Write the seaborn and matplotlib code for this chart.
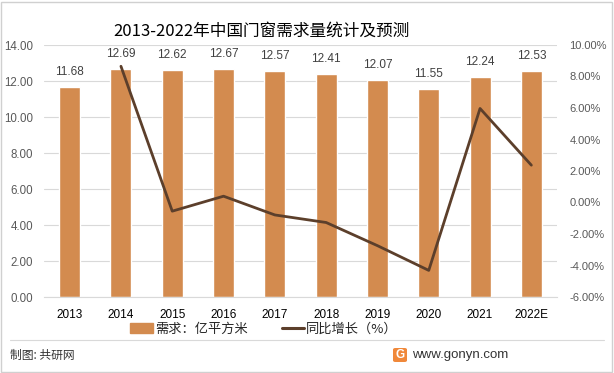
import matplotlib
matplotlib.use("Agg")
import matplotlib.pyplot as plt
import seaborn as sns
import pandas as pd
from matplotlib.patches import Rectangle, FancyBboxPatch
from matplotlib.lines import Line2D

years = ["2013", "2014", "2015", "2016", "2017", "2018", "2019", "2020", "2021", "2022E"]
demand = [11.68, 12.69, 12.62, 12.67, 12.57, 12.41, 12.07, 11.55, 12.24, 12.53]
growth = [None, 8.65, -0.55, 0.40, -0.79, -1.27, -2.74, -4.31, 5.97, 2.37]
left_ticks = [0, 2, 4, 6, 8, 10, 12, 14]
right_ticks = [-6, -4, -2, 0, 2, 4, 6, 8, 10]

sns.set_theme(style="white")
FONT = ["Liberation Sans", "Noto Sans CJK SC", "DejaVu Sans"]
CJK = ["Noto Sans CJK SC", "DejaVu Sans"]
plt.rcParams["font.family"] = FONT

BAR = "#D38B4F"
LINE = "#5C3F2B"

df = pd.DataFrame({"year": years, "demand": demand, "growth": growth})

fig = plt.figure(figsize=(6.14, 3.73), dpi=100)
ax = fig.add_axes([44/614, 1-297/373, (557-44)/614, (297-45)/373])

sns.barplot(data=df, x="year", y="demand", color=BAR, width=0.41, ax=ax,
            saturation=1, zorder=2)
ax.set_ylim(0, 14)
ax.set_xlim(-0.5, len(years)-0.5)
ax.set_yticks(left_ticks)
ax.set_yticklabels([f"{v:.2f}" for v in left_ticks], color="#595959", fontsize=8.3)
ax.set_xlabel("")
ax.set_ylabel("")
ax.tick_params(axis="x", labelsize=8.5, colors="#000000", pad=9, length=0)
ax.tick_params(axis="y", length=0, pad=8)
ax.grid(axis="y", color="#D9D9D9", linewidth=0.8, zorder=0)
ax.set_axisbelow(True)
for s in ax.spines.values():
    s.set_visible(False)
ax.spines["bottom"].set_visible(True)
ax.spines["bottom"].set_color("#D9D9D9")
ax.spines["bottom"].set_linewidth(0.8)

for i, v in enumerate(demand):
    ax.text(i, v + 0.5, f"{v:.2f}", ha="center", va="bottom", fontsize=8.5, color="#404040")

ax2 = ax.twinx()
gdf = df.dropna()
xs = [years.index(y) for y in gdf["year"]]
ax2.plot(xs, gdf["growth"].values, color=LINE, linewidth=2.0, zorder=3)
ax2.set_ylim(-6, 10)
ax2.set_yticks(right_ticks)
ax2.set_yticklabels([f"{v:.2f}%" for v in right_ticks], color="#595959", fontsize=8)
ax2.tick_params(axis="y", length=0, pad=9)
for s in ax2.spines.values():
    s.set_visible(False)
ax2.set_xlim(-0.5, len(years)-0.5)

# Title
fig.text(261/614, 1-31/373, "2013-2022年中国门窗需求量统计及预测", ha="center", va="center",
         fontsize=12, color="#000000", family=CJK, fontweight="light")

# Legend
handles = [Rectangle((0, 0), 1, 1, color=BAR), Line2D([0], [0], color=LINE, linewidth=2.2)]
leg = fig.legend(handles, ["需求：亿平方米", "同比增长（%）"], loc="center",
                 bbox_to_anchor=(264/614, 1-329/373), ncol=2, frameon=False,
                 handlelength=1.7, handleheight=0.7, columnspacing=2.6,
                 handletextpad=0.15, prop={"family": CJK, "size": 9.5})

# Footer separator
fig.add_artist(Line2D([10/614, 604/614], [1-340/373, 1-340/373], color="#D9D9D9",
                      linewidth=0.8, transform=fig.transFigure))
fig.text(10/614, 1-355/373, "制图: 共研网", ha="left", va="center", fontsize=8.5,
         color="#333333", family=CJK)
fig.text(412/614, 1-355/373, "www.gonyn.com", ha="left", va="center", fontsize=9.5,
         color="#333333")
# logo
logo = FancyBboxPatch((393/614, 1-362/373), 14/614, 14/373,
                      boxstyle="round,pad=0,rounding_size=0.004",
                      transform=fig.transFigure, facecolor="#F0883A", edgecolor="none")
fig.add_artist(logo)
fig.text(400/614, 1-355/373, "G", ha="center", va="center", fontsize=8.5,
         color="white", fontweight="bold")

# Border
fig.add_artist(Rectangle((1/614, 1/373), 611/614, 370/373, transform=fig.transFigure,
                         fill=False, edgecolor="#D0D0D0", linewidth=1))

fig.savefig("out.png", dpi=100)
